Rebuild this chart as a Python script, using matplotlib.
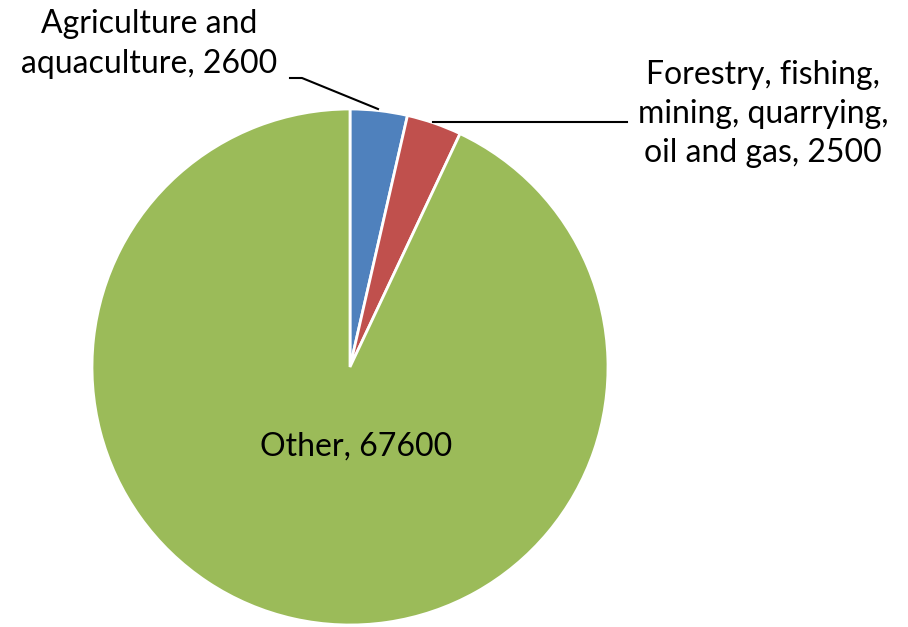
import matplotlib
matplotlib.use('Agg')
import matplotlib.pyplot as plt

# 데이터
labels = ['Agriculture and\naquaculture', 'Forestry, fishing,\nmining, quarrying,\noil and gas', 'Other']
values = [2600, 2500, 67600]
colors = ['#4F81BD', '#C0504D', '#9BBB59']

plt.rcParams['font.family'] = ['Lato', 'DejaVu Sans']

fig = plt.figure(figsize=(9.08, 6.27), dpi=100)
ax = fig.add_axes([0, 0, 1, 1])

# 파이 중심/반지름 (픽셀 기준, y는 아래에서 위로)
cx, cy, r = 350, 627 - 367, 258

wedges, _ = ax.pie(values, colors=colors, startangle=90, counterclock=False,
                   center=(cx, cy), radius=r, frame=True,
                   wedgeprops=dict(edgecolor='white', linewidth=2))
ax.set_xlim(0, 908)
ax.set_ylim(0, 627)
ax.set_aspect('equal')
ax.axis('off')

fs = 23
texts = [f'{lab}, {v}' for lab, v in zip(labels, values)]

# Agriculture 라벨 + 리더선
ax.text(149, 627 - 44, texts[0], ha='center', va='center', fontsize=fs, linespacing=1.38)
ax.plot([290, 302, 378], [627 - 78, 627 - 78, 627 - 109], color='black', lw=1.5)

# Forestry 라벨 + 리더선
ax.text(763, 627 - 114, texts[1], ha='center', va='center', fontsize=fs, linespacing=1.38)
ax.plot([433, 627], [627 - 122, 627 - 122], color='black', lw=1.5)

# Other 라벨
ax.text(356, 627 - 447, texts[2], ha='center', va='center', fontsize=fs)

plt.savefig('out.png', dpi=100)
